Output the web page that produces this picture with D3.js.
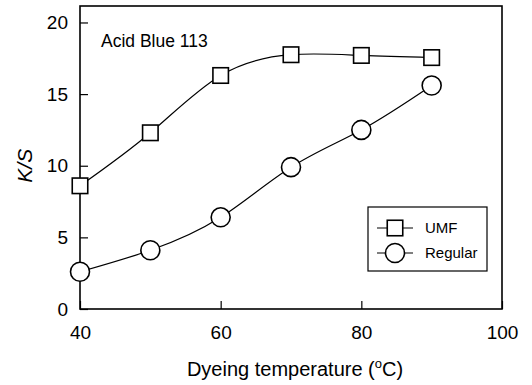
<!DOCTYPE html>
<html>
<head>
<meta charset="utf-8">
<script src="https://cdn.jsdelivr.net/npm/d3@7"></script>
<style>
  body { margin: 0; background: #fff; }
  svg { font-family: Arial, "Liberation Sans", sans-serif; }
</style>
</head>
<body>
<svg id="chart"></svg>
<script>
// values
const temps = [40, 50, 60, 70, 80, 90]
const umf = [8.6, 12.3, 16.3, 17.75, 17.7, 17.55]
const regular = [2.6, 4.1, 6.4, 9.9, 12.5, 15.6]
const xTicks = [40, 60, 80, 100]
const yTicks = [0, 5, 10, 15, 20]

const W = 532, H = 385
const margin = { top: 6, right: 30, bottom: 76, left: 80 }
const width = W - margin.left - margin.right
const height = H - margin.top - margin.bottom

const svg = d3.select('#chart').attr('width', W).attr('height', H)
const g = svg.append('g').attr('transform', `translate(${margin.left},${margin.top})`)

const x = d3.scaleLinear().domain([40, 100]).range([0, width])
const y = d3.scaleLinear().domain([0, 21.15]).range([height, 0])

// frame
g.append('rect')
    .attr('width', width).attr('height', height)
    .attr('fill', 'none').attr('stroke', '#000').attr('stroke-width', 1.6)

// axes with inward ticks
const xAxis = d3.axisBottom(x).tickValues(xTicks).tickSize(-8).tickPadding(17)
const yAxis = d3.axisLeft(y).tickValues(yTicks).tickSize(-8).tickPadding(12)

const xg = g.append('g').attr('transform', `translate(0,${height})`).call(xAxis)
const yg = g.append('g').call(yAxis)
;[xg, yg].forEach(a => {
    a.select('.domain').remove()
    a.selectAll('line').attr('stroke', '#000').attr('stroke-width', 1.2)
    a.selectAll('text').attr('fill', '#000').style('font-size', '19px')
})

// curves
const line = d3.line()
    .x((d, i) => x(temps[i]))
    .y(d => y(d))
    .curve(d3.curveNatural)

g.append('path').datum(umf).attr('d', line)
    .attr('fill', 'none').attr('stroke', '#000').attr('stroke-width', 1.2)
g.append('path').datum(regular).attr('d', line)
    .attr('fill', 'none').attr('stroke', '#000').attr('stroke-width', 1.2)

const sq = 15.5, r = 9.5

g.selectAll('.sq').data(umf).join('rect')
    .attr('class', 'sq')
    .attr('x', (d, i) => x(temps[i]) - sq / 2)
    .attr('y', d => y(d) - sq / 2)
    .attr('width', sq).attr('height', sq)
    .attr('fill', '#fff').attr('stroke', '#000').attr('stroke-width', 1.6)

g.selectAll('.ci').data(regular).join('circle')
    .attr('class', 'ci')
    .attr('cx', (d, i) => x(temps[i]))
    .attr('cy', d => y(d))
    .attr('r', r)
    .attr('fill', '#fff').attr('stroke', '#000').attr('stroke-width', 1.6)

// annotation
g.append('text').attr('x', 21).attr('y', 41)
    .style('font-size', '17.5px').text('Acid Blue 113')

// legend
const lg = g.append('g').attr('transform', 'translate(288,201)')
lg.append('rect').attr('width', 119).attr('height', 64)
    .attr('fill', '#fff').attr('stroke', '#000').attr('stroke-width', 1.2)
const items = [['UMF', 'sq'], ['Regular', 'ci']]
items.forEach(([name, kind], i) => {
    const cy = 21 + i * 25
    lg.append('line').attr('x1', 9).attr('x2', 45).attr('y1', cy).attr('y2', cy)
        .attr('stroke', '#000').attr('stroke-width', 1.2)
    if (kind === 'sq') {
        lg.append('rect').attr('x', 27 - sq / 2).attr('y', cy - sq / 2)
            .attr('width', sq).attr('height', sq)
            .attr('fill', '#fff').attr('stroke', '#000').attr('stroke-width', 1.6)
    } else {
        lg.append('circle').attr('cx', 27).attr('cy', cy).attr('r', r)
            .attr('fill', '#fff').attr('stroke', '#000').attr('stroke-width', 1.6)
    }
    lg.append('text').attr('x', 57).attr('y', cy).attr('dy', '0.35em')
        .style('font-size', '15px').text(name)
})

// axis titles
const xt = svg.append('text').attr('x', 295).attr('y', 376)
    .attr('text-anchor', 'middle').style('font-size', '20px')
xt.append('tspan').text('Dyeing temperature (')
xt.append('tspan').attr('dy', -8).style('font-size', '13px').text('o')
xt.append('tspan').attr('dy', 8).text('C)')

svg.append('text')
    .attr('transform', `translate(32,${margin.top + y(10)}) rotate(-90)`)
    .attr('text-anchor', 'middle')
    .style('font-size', '21px').style('font-style', 'italic')
    .text('K/S')
</script>
</body>
</html>
